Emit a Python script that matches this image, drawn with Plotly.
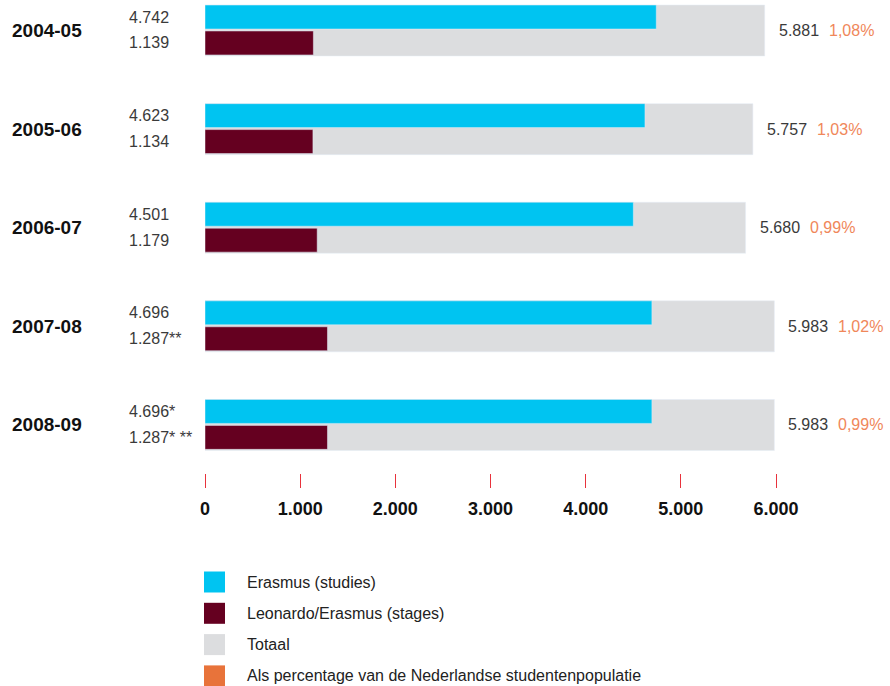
import plotly.graph_objects as go

# ---------------- data ----------------
years = ["2004-05", "2005-06", "2006-07", "2007-08", "2008-09"]
erasmus = [4742, 4623, 4501, 4696, 4696]
leonardo = [1139, 1134, 1179, 1287, 1287]
totals = [5881, 5757, 5680, 5983, 5983]
percentages = [1.08, 1.03, 0.99, 1.02, 0.99]
erasmus_notes = ["", "", "", "", "*"]
leonardo_notes = ["", "", "", "**", "* **"]
x_ticks = [0, 1000, 2000, 3000, 4000, 5000, 6000]
legend_labels = ["Erasmus (studies)", "Leonardo/Erasmus (stages)", "Totaal",
                 "Als percentage van de Nederlandse studentenpopulatie"]

# ---------------- style ----------------
C_CYAN = "#00c4f1"
C_MAROON = "#650020"
C_GREY = "#dcdddf"
C_ORANGE = "#e8733a"
C_PCT = "#f0875a"
FONT = "Liberation Sans, Arial, Helvetica, sans-serif"

W, H = 890, 686
L, R, T, B = 205, 114, 0, 213
PW, PH = W - L - R, H - T - B
STEP = 98.6      # px per category
C0 = 30.5        # px centre of first category


def nl(v):
    return f"{v:,}".replace(",", ".")


def px2x(px):
    return (px - L) / PW


def py2y(py):
    return (PH + T - py) / PH


pos = list(range(len(years)))

G_OFF, G_W = -0.258, 0.517
E_OFF, E_W = -0.258, 0.243
L_OFF, L_W = 0.005, 0.243

fig = go.Figure()
fig.add_trace(go.Bar(y=pos, x=totals, orientation="h", marker_color=C_GREY,
                     width=G_W, offset=G_OFF, name=legend_labels[2], showlegend=False,
                     hoverinfo="x"))
fig.add_trace(go.Bar(y=pos, x=erasmus, orientation="h", marker_color=C_CYAN,
                     width=E_W, offset=E_OFF, name=legend_labels[0], showlegend=False,
                     hoverinfo="x"))
fig.add_trace(go.Bar(y=pos, x=leonardo, orientation="h", marker_color=C_MAROON,
                     width=L_W, offset=L_OFF, name=legend_labels[1], showlegend=False,
                     hoverinfo="x"))

ann = []
for i, yr in enumerate(years):
    ann.append(dict(xref="paper", yref="y", x=px2x(10), y=i, text=f"<b>{yr}</b>",
                    xanchor="left", yanchor="middle", showarrow=False,
                    font=dict(family=FONT, size=19, color="#111111")))
    ann.append(dict(xref="paper", yref="y", x=px2x(127), y=i + E_OFF + E_W / 2,
                    text=nl(erasmus[i]) + erasmus_notes[i],
                    xanchor="left", yanchor="middle", showarrow=False,
                    font=dict(family=FONT, size=16, color="#3a3a3a")))
    ann.append(dict(xref="paper", yref="y", x=px2x(127), y=i + L_OFF + L_W / 2,
                    text=nl(leonardo[i]) + leonardo_notes[i],
                    xanchor="left", yanchor="middle", showarrow=False,
                    font=dict(family=FONT, size=16, color="#3a3a3a")))
    ann.append(dict(xref="x", yref="y", x=totals[i], y=i, xshift=12,
                    text=nl(totals[i]), xanchor="left", yanchor="middle", showarrow=False,
                    font=dict(family=FONT, size=16, color="#3a3a3a")))
    ann.append(dict(xref="x", yref="y", x=totals[i], y=i, xshift=62,
                    text=f"{percentages[i]:.2f}%".replace(".", ","),
                    xanchor="left", yanchor="middle", showarrow=False,
                    font=dict(family=FONT, size=16, color=C_PCT)))

# legend (drawn manually)
shapes = []
leg_colors = [C_CYAN, C_MAROON, C_GREY, C_ORANGE]
for k, (lab, col) in enumerate(zip(legend_labels, leg_colors)):
    yc = 582 + 31.3 * k
    shapes.append(dict(type="rect", xref="paper", yref="paper",
                       x0=px2x(204), x1=px2x(225), y0=py2y(yc + 10.5), y1=py2y(yc - 10.5),
                       fillcolor=col, line=dict(width=0)))
    ann.append(dict(xref="paper", yref="paper", x=px2x(245), y=py2y(yc), text=lab,
                    xanchor="left", yanchor="middle", showarrow=False,
                    font=dict(family=FONT, size=16, color="#222222")))

y_top = -C0 / STEP
y_bot = (PH - C0) / STEP

fig.update_layout(
    width=W, height=H,
    margin=dict(l=L, r=R, t=T, b=B, pad=0),
    paper_bgcolor="white", plot_bgcolor="white",
    barmode="overlay",
    showlegend=False,
    font=dict(family=FONT),
    annotations=ann,
    shapes=shapes,
    xaxis=dict(range=[0, 6000], tickvals=x_ticks, ticktext=[nl(v) for v in x_ticks],
               showgrid=False, zeroline=False, showline=False,
               ticks="outside", ticklen=14, tickwidth=1, tickcolor="#e8323c",
               ticklabelstandoff=5,
               tickfont=dict(family=FONT, size=18, color="#111111", weight="bold")),
    yaxis=dict(range=[y_bot, y_top], showgrid=False, zeroline=False, showline=False,
               showticklabels=False, ticks=""),
)

fig.write_html("out.html", config={"displayModeBar": False},
               post_script="document.body.style.margin='0';document.body.style.padding='0';")
